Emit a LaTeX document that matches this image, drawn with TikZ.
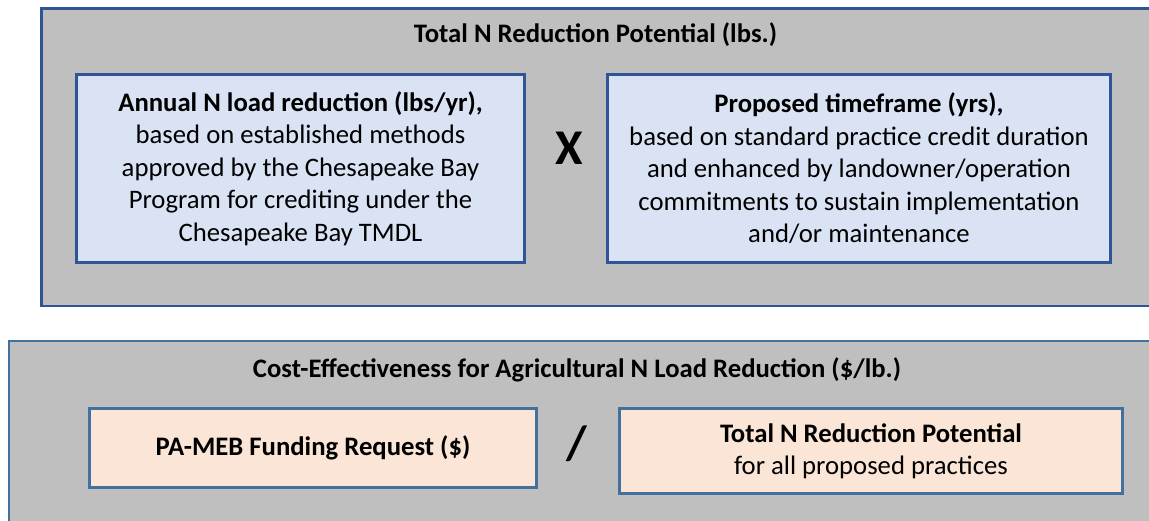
\documentclass[tikz,border=0pt]{standalone}
\usepackage{fontspec}
\setmainfont{Carlito}
\definecolor{panelgray}{HTML}{BFBFBF}
\definecolor{darkblue}{HTML}{2F5597}
\definecolor{steelblue}{HTML}{41719C}
\definecolor{lightblue}{HTML}{DAE3F3}
\definecolor{peach}{HTML}{FBE5D6}
\tikzset{
  toppanel/.style={draw=darkblue, fill=panelgray, line width=2.5pt},
  botpanel/.style={draw=steelblue, fill=panelgray, line width=2.2pt},
  bluebox/.style={draw=darkblue, fill=lightblue, line width=3pt, inner sep=0pt, align=center,
    font=\fontsize{26.7}{32.5}\selectfont},
  peachbox/.style={draw=steelblue, fill=peach, line width=3pt, inner sep=0pt, align=center,
    font=\fontsize{26.7}{32}\selectfont},
  paneltitle/.style={font=\fontsize{26.7}{32}\selectfont\bfseries, inner sep=0pt},
  opsym/.style={font=\fontsize{50}{50}\selectfont\bfseries, inner sep=0pt}
}
\begin{document}
\begin{tikzpicture}[x=1pt,y=-1pt]
\useasboundingbox (0,0) rectangle (1149,520);
\clip (0,0) rectangle (1149,520);
% top panel
\node[toppanel, minimum width=1180pt, minimum height=297.5pt, anchor=north west, inner sep=0pt] (top) at (40.25,7.25) {};
\node[paneltitle] (toptitle) at (595.5,35) {Total N Reduction Potential (lbs.)};
\node[bluebox, minimum width=448pt, minimum height=188pt] (annual) at (300.5,168.5)
  {\textbf{Annual N load reduction (lbs/yr),}\\ based on established methods\\ approved by the Chesapeake Bay\\ Program for crediting under the\\ Chesapeake Bay TMDL};
\node[bluebox, minimum width=503pt, minimum height=188pt] (timeframe) at (859,168.5)
  {\textbf{Proposed timeframe (yrs),}\\ based on standard practice credit duration\\ and enhanced by landowner/operation\\ commitments to sustain implementation\\ and/or maintenance};
\node[opsym] (times) at (569,148) {X};
% bottom panel
\node[botpanel, minimum width=1200pt, minimum height=300pt, anchor=north west, inner sep=0pt] (bot) at (7.5,340) {};
\node[paneltitle] (bottitle) at (577,370) {Cost-Effectiveness for Agricultural N Load Reduction (\$/lb.)};
\node[peachbox, minimum width=447pt, minimum height=79pt] (funding) at (313,448)
  {\textbf{PA-MEB Funding Request (\$)}};
\node[peachbox, minimum width=503pt, minimum height=85pt] (totaln) at (871,451)
  {\textbf{Total N Reduction Potential}\\ for all proposed practices};
\node[opsym, font=\fontsize{48}{48}\selectfont\bfseries] (divide) at (577,444) {/};
\end{tikzpicture}
\end{document}
